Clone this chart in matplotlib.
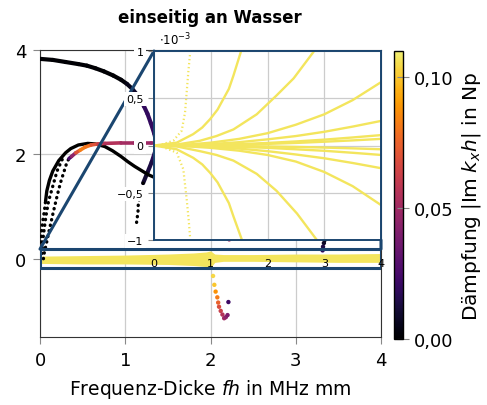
import numpy as np
import matplotlib
matplotlib.use('Agg')
import matplotlib.pyplot as plt
from matplotlib.colors import ListedColormap, Normalize
from matplotlib.collections import LineCollection
from matplotlib.patches import Rectangle, ConnectionPatch
from matplotlib.ticker import FuncFormatter
from matplotlib.cm import ScalarMappable

plt.rcParams['font.family'] = ['DejaVu Sans']
plt.rcParams['mathtext.fontset'] = 'dejavusans'

# ---- main plot data (fh in MHz mm, y value, damping |Im kx h| in Np) ----
a_fh = [0.0, 0.15, 0.3, 0.45, 0.55, 0.65, 0.75, 0.86, 0.95, 1.02, 1.08, 1.13, 1.18,
        1.22, 1.26, 1.3, 1.34, 1.37, 1.35, 1.31, 1.26, 1.21]
a_y = [3.83, 3.81, 3.77, 3.73, 3.70, 3.65, 3.59, 3.51, 3.43, 3.35, 3.26, 3.16, 3.04,
       2.92, 2.78, 2.6, 2.4, 2.2, 2.05, 1.85, 1.65, 1.45]
a_d = [0.0, 0.0, 0.0, 0.0, 0.0, 0.0, 0.0, 0.0, 0.001, 0.003, 0.007, 0.011, 0.015,
       0.018, 0.019, 0.02, 0.02, 0.02, 0.018, 0.015, 0.012, 0.01]
a_dot_fh = [1.21, 1.17, 1.15, 1.15, 1.14, 1.13]
a_dot_y = [1.45, 1.2, 1.0, 0.91, 0.78, 0.66]

b_fh = [0.065, 0.08, 0.11, 0.15, 0.22, 0.3, 0.36, 0.45, 0.56, 0.65, 0.76, 0.85, 0.95,
        1.03, 1.11, 1.2, 1.27, 1.34, 1.45]
b_y = [1.1, 1.3, 1.5, 1.68, 1.88, 2.03, 2.11, 2.18, 2.21, 2.2, 2.15, 2.07, 1.96,
       1.86, 1.77, 1.68, 1.61, 1.56, 1.5]
b_dot_fh = [0.005, 0.01, 0.02, 0.035, 0.05, 0.065]
b_dot_y = [0.1, 0.3, 0.55, 0.75, 0.9, 1.1]

f_dot_fh = [0.02, 0.04, 0.07, 0.1, 0.15, 0.2, 0.26]
f_dot_y = [0.1, 0.45, 0.82, 1.1, 1.39, 1.68, 1.9]

e_dot_fh = [0.04, 0.05, 0.08, 0.11, 0.15, 0.19, 0.22, 0.25, 0.28, 0.30, 0.32, 0.34]
e_dot_y = [0.0, 0.11, 0.33, 0.56, 0.85, 1.13, 1.33, 1.51, 1.66, 1.77, 1.86, 1.92]

c_fh = [0.34, 0.37, 0.42, 0.47, 0.53, 0.6, 0.68, 0.76, 0.95, 1.1, 1.3, 1.5]
c_y = [1.92, 1.96, 2.03, 2.08, 2.14, 2.18, 2.2, 2.21, 2.22, 2.22, 2.22, 2.22]
c_d = [0.02, 0.03, 0.06, 0.08, 0.085, 0.075, 0.065, 0.058, 0.052, 0.05, 0.048, 0.047]

# points leaving the axis near fh = 2 and fh = 3.3
p_fh = [2.03, 2.045, 2.06, 2.08, 2.09, 2.10, 2.12, 2.14, 2.16, 2.18, 2.20, 2.21, 2.22,
        3.34, 3.33, 3.32, 3.315]
p_y = [-0.33, -0.5, -0.63, -0.74, -0.84, -0.92, -1.0, -1.07, -1.14, -1.12, -1.08, -0.83, 0.37,
       0.36, 0.3, 0.23, 0.16]
p_d = [0.104, 0.1, 0.088, 0.082, 0.075, 0.068, 0.062, 0.056, 0.05, 0.045, 0.04, 0.022, 0.05,
       0.0, 0.008, 0.014, 0.018]

# yellow band of weakly damped modes close to zero
band_fh = [0.0, 0.5, 1.0, 1.5, 1.8, 1.95, 2.0, 2.05, 2.15, 2.5, 3.0, 3.5, 4.0]
band_hi = [0.05, 0.06, 0.07, 0.09, 0.11, 0.13, 0.15, 0.09, 0.08, 0.08, 0.09, 0.09, 0.1]
band_lo = [-0.09, -0.1, -0.1, -0.11, -0.13, -0.15, -0.17, -0.07, -0.05, -0.05, -0.06, -0.07, -0.07]
band_d = 0.107

# ---- inset data (values in 1e-3) ----
fan_fh = [0, 0.5, 1, 1.5, 2, 2.5, 3, 3.5, 4]
fan_v = [
    [0, 0.005, 0.03, 0.07, 0.13, 0.22, 0.33, 0.48, 0.67],
    [0, -0.005, -0.025, -0.055, -0.1, -0.17, -0.28, -0.43, -0.63],
    [0, 0.003, 0.015, 0.035, 0.065, 0.1, 0.145, 0.2, 0.26],
    [0, -0.003, -0.014, -0.033, -0.06, -0.095, -0.135, -0.185, -0.24],
    [0, 0.002, 0.006, 0.014, 0.027, 0.043, 0.062, 0.085, 0.11],
    [0, 0.001, 0.004, 0.009, 0.017, 0.027, 0.04, 0.054, 0.07],
    [0, -0.001, -0.003, -0.005, -0.01, -0.015, -0.022, -0.03, -0.04],
    [0, -0.002, -0.006, -0.014, -0.025, -0.04, -0.056, -0.077, -0.1],
]
u3_fh = [0, 0.4, 0.81, 1.1, 1.4, 1.81, 2.16, 2.46, 2.81, 2.85]
u3_v = [0, 0.01, 0.05, 0.1, 0.17, 0.33, 0.53, 0.71, 0.99, 1.05]
l3_fh = [0, 0.4, 0.81, 1.1, 1.4, 1.81, 2.16, 2.52, 2.87, 2.9]
l3_v = [0, -0.01, -0.06, -0.1, -0.16, -0.3, -0.48, -0.72, -1.0, -1.05]
u2_fh = [0, 0.4, 0.69, 0.85, 0.99, 1.12, 1.22, 1.32, 1.4, 1.53, 1.56]
u2_v = [0, 0.03, 0.12, 0.19, 0.28, 0.38, 0.49, 0.6, 0.74, 0.99, 1.05]
l2_fh = [0, 0.4, 0.69, 0.85, 0.99, 1.12, 1.22, 1.32, 1.4, 1.55, 1.58]
l2_v = [0, -0.04, -0.13, -0.2, -0.29, -0.39, -0.5, -0.61, -0.75, -1.0, -1.05]
u1_fh = [0, 0.1, 0.34, 0.488, 0.547, 0.576, 0.605, 0.635]
u1_v = [0, 0.003, 0.05, 0.156, 0.35, 0.566, 0.78, 0.97]
l1_fh = [0, 0.1, 0.40, 0.517, 0.576, 0.61, 0.635]
l1_v = [0, -0.003, -0.075, -0.252, -0.57, -0.78, -0.965]

cb_ticks = [0.0, 0.05, 0.10]

blue = '#1b4670'
cmap = ListedColormap(plt.get_cmap('inferno')(np.linspace(0, 0.95, 256)))
norm = Normalize(0, 0.11)


def comma(v, pos=None, nd=0):
    return ('%.*f' % (nd, v)).replace('.', ',').replace('-', '\u2212')


def colored_line(ax, x, y, d, lw):
    pts = np.column_stack([x, y])
    seg = np.stack([pts[:-1], pts[1:]], axis=1)
    dm = (np.array(d[:-1]) + np.array(d[1:])) / 2
    lc = LineCollection(seg, colors=cmap(norm(dm)), linewidths=lw, capstyle='round', zorder=3)
    ax.add_collection(lc)


def dotted(ax, x, y, color='k', lw=2.4):
    ax.plot(x, y, color=color, lw=lw, ls=(0, (0.1, 1.6)), dash_capstyle='round', zorder=3)


fig = plt.figure(figsize=(4.87, 4.06), dpi=100)
ax = fig.add_axes([40 / 487, 1 - 338 / 406, 341 / 487, 287 / 406])

ax.fill_between(band_fh, band_lo, band_hi, color=cmap(norm(band_d)), lw=0, zorder=2)
colored_line(ax, a_fh, a_y, a_d, 3.0)
dotted(ax, a_dot_fh, a_dot_y)
ax.plot(b_fh, b_y, color='k', lw=2.4, solid_capstyle='round', zorder=3)
dotted(ax, b_dot_fh, b_dot_y)
dotted(ax, f_dot_fh, f_dot_y)
dotted(ax, e_dot_fh, e_dot_y)
colored_line(ax, c_fh, c_y, c_d, 2.6)
ax.scatter(p_fh, p_y, c=p_d, cmap=cmap, norm=norm, s=10, lw=0, zorder=3)

ax.set_xlim(0, 4)
ax.set_ylim(-1.5, 4)
ax.set_xticks([0, 1, 2, 3, 4])
ax.set_yticks([0, 2, 4])
ax.grid(True, color='#cccccc', lw=0.9, zorder=0)
ax.set_axisbelow(True)
ax.tick_params(labelsize=13, direction='out', length=5, color='#888888', pad=5)
for s in ax.spines.values():
    s.set_color('#333333')
ax.set_xlabel('Frequenz-Dicke $fh$ in MHz mm', fontsize=13.5, labelpad=6)

rect = Rectangle((0, -0.185), 4, 0.37, fill=False, ec=blue, lw=2.2, zorder=4)
ax.add_patch(rect)

axins = fig.add_axes([154 / 487, 1 - 241 / 406, 227 / 487, 189 / 406])
axins.set_zorder(5)
yel = cmap(norm(0.107))
for v in fan_v:
    axins.plot(fan_fh, v, color=yel, lw=1.7)
for xx, vv in [(u3_fh, u3_v), (l3_fh, l3_v), (u2_fh, u2_v), (l2_fh, l2_v)]:
    axins.plot(xx, vv, color=yel, lw=1.7)
for xx, vv in [(u1_fh, u1_v), (l1_fh, l1_v)]:
    axins.plot(xx, vv, color=yel, lw=1.6, ls=(0, (0.6, 1.2)))
axins.set_xlim(0, 4)
axins.set_ylim(-1, 1)
axins.set_xticks([0, 1, 2, 3, 4])
axins.set_yticks([-1, -0.5, 0, 0.5, 1], labels=[comma(-1), comma(-0.5, nd=1), '0', comma(0.5, nd=1), '1'])
axins.grid(True, color='#cccccc', lw=0.9)
axins.tick_params(labelsize=8, color='#888888', length=4)
axins.tick_params(axis='x', pad=13, length=0)
for t in axins.get_yticklabels():
    t.set_bbox(dict(facecolor='white', edgecolor='none', pad=1.5))
for s in axins.spines.values():
    s.set_color(blue)
    s.set_linewidth(1.4)
axins.text(0.02, 1.02, r'$\cdot 10^{-3}$', transform=axins.transAxes, fontsize=8.5, va='bottom', ha='left')

for pa, pb in [((0, 1), (0, 0.185)), ((1, 0), (4, 0.185))]:
    cp = ConnectionPatch(xyA=pa, coordsA=axins.transAxes, xyB=pb, coordsB=ax.transData,
                         color=blue, lw=2.2, zorder=4)
    ax.add_artist(cp)

cax = fig.add_axes([394 / 487, 1 - 340 / 406, 9 / 487, 288 / 406])
cb = fig.colorbar(ScalarMappable(norm=norm, cmap=cmap), cax=cax, ticks=cb_ticks)
cb.ax.yaxis.set_major_formatter(FuncFormatter(lambda v, p: comma(v, nd=2)))
cb.ax.tick_params(labelsize=13, direction='inout', length=8, color='#888888')
cb.outline.set_linewidth(1.0)
cb.set_label(r'Dämpfung $|\mathrm{Im}\;k_x h|$ in Np', fontsize=14.5, labelpad=5)

fig.text(210 / 487, 1 - 18 / 406, 'einseitig an Wasser', fontsize=12, fontweight='bold',
         ha='center', va='center')

fig.savefig('out.png', dpi=100)
